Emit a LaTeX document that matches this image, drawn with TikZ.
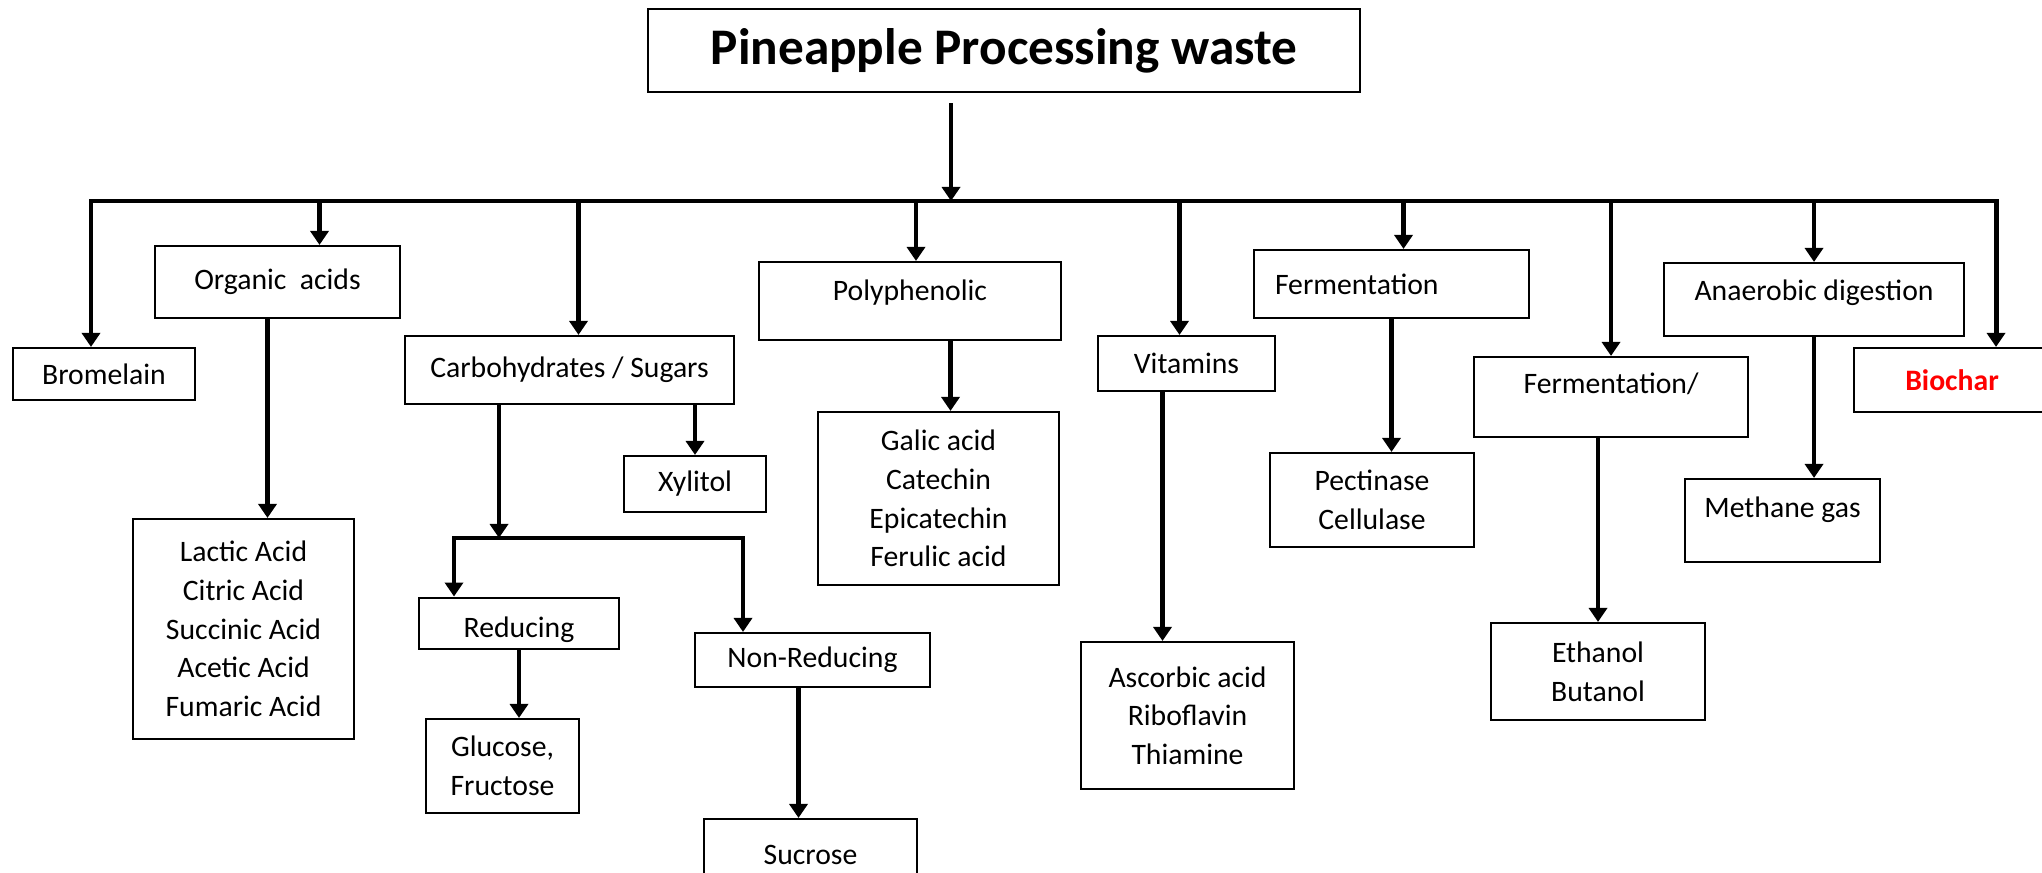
\documentclass[tikz,border=0pt]{standalone}
\usepackage{fontspec}
\setmainfont{Carlito}
\usetikzlibrary{arrows.meta}
\definecolor{ppInk}{HTML}{000000}
\definecolor{ppRed}{HTML}{FF0000}
\newcommand{\boxfont}{\fontsize{8.45}{11}\selectfont}
\tikzset{
  item/.style={
    draw=ppInk, line width=0.6pt, fill=white, inner sep=2pt,
    align=center, font=\boxfont, text=ppInk
  },
  head/.style={item, font=\fontsize{14.6}{17}\selectfont\bfseries},
  flow/.style={-{Triangle[length=1.4mm, width=1.8mm]}, line width=1.4pt, draw=ppInk},
  lift/.style={text depth=#1},
  sink/.style={text height=#1},
}

\begin{document}
\begin{tikzpicture}
  \useasboundingbox (0,0) rectangle (20.42,-8.73);

  % top
  \node[head, minimum width=7.12cm, minimum height=0.83cm] (title) at (10.04,-0.505) {Pineapple Processing waste};

  % first row
  \node[item, minimum width=1.82cm, minimum height=0.52cm] (brom) at (1.04,-3.74) {Bromelain};
  \node[item, minimum width=2.45cm, minimum height=0.72cm] (org)  at (2.775,-2.82) {Organic\ \ acids};
  \node[item, minimum width=3.29cm, minimum height=0.68cm] (carb) at (5.695,-3.70) {Carbohydrates / Sugars};
  \node[item, minimum width=3.02cm, minimum height=0.78cm, lift=6.3pt] (poly) at (9.10,-3.01) {Polyphenolic};
  \node[item, minimum width=1.77cm, minimum height=0.55cm] (vit)  at (11.865,-3.635) {Vitamins};
  \node[item, minimum width=2.75cm, minimum height=0.68cm, text width=2.33cm, inner xsep=0.21cm, align=left] (ferm) at (13.915,-2.84) {Fermentation};
  \node[item, minimum width=2.74cm, minimum height=0.80cm, lift=7.7pt] (ferm2) at (16.11,-3.97) {Fermentation/};
  \node[item, minimum width=3.00cm, minimum height=0.73cm, lift=5.1pt] (ana)  at (18.14,-2.995) {Anaerobic digestion};
  \node[item, minimum width=1.96cm, minimum height=0.64cm, text=ppRed, font=\boxfont\bfseries] (bio) at (19.52,-3.80) {Biochar};

  % products
  \node[item, minimum width=2.21cm, minimum height=2.20cm] (acids) at (2.435,-6.29)
    {Lactic Acid\\Citric Acid\\Succinic Acid\\Acetic Acid\\Fumaric Acid};
  \node[item, minimum width=1.42cm, minimum height=0.56cm] (xyl) at (6.95,-4.84) {Xylitol};
  \node[item, minimum width=2.41cm, minimum height=1.73cm] (gal) at (9.385,-4.985)
    {Galic acid\\Catechin\\Epicatechin\\Ferulic acid};
  \node[item, minimum width=2.00cm, minimum height=0.51cm, sink=9.3pt] (red) at (5.19,-6.235) {Reducing};
  \node[item, minimum width=2.35cm, minimum height=0.54cm] (nonred) at (8.125,-6.60) {Non-Reducing};
  \node[item, minimum width=1.53cm, minimum height=0.94cm] (glu) at (5.025,-7.66) {Glucose,\\Fructose};
  \node[item, minimum width=2.13cm, minimum height=0.71cm] (suc) at (8.105,-8.545) {Sucrose};
  \node[item, minimum width=2.13cm, minimum height=1.47cm] (asc) at (11.875,-7.155)
    {Ascorbic acid\\Riboflavin\\Thiamine};
  \node[item, minimum width=2.04cm, minimum height=0.94cm] (pec) at (13.72,-5.00) {Pectinase\\Cellulase};
  \node[item, minimum width=2.14cm, minimum height=0.97cm] (eth) at (15.98,-6.715) {Ethanol\\Butanol};
  \node[item, minimum width=1.95cm, minimum height=0.83cm, lift=7.4pt] (meth) at (17.825,-5.205) {Methane gas};

  % bus under the title
  \coordinate (hub)  at (9.51,-2.01);
  \coordinate (barL) at (0.91,-2.01);
  \coordinate (barR) at (19.96,-2.01);
  \draw[flow, shorten <=1mm] (title.south -| hub) -- (hub);
  \draw[flow] (hub) -- (barL) -- (barL |- brom.north);
  \draw[flow] (hub) -- (barR) -- (barR |- bio.north);
  \draw[flow] ([xshift=4.2mm]org.north |- hub) -- ([xshift=4.2mm]org.north);
  \draw[flow] ([xshift=0.9mm]carb.north |- hub) -- ([xshift=0.9mm]carb.north);
  \draw[flow] ([xshift=0.6mm]poly.north |- hub) -- ([xshift=0.6mm]poly.north);
  \draw[flow] ([xshift=-0.7mm]vit.north |- hub) -- ([xshift=-0.7mm]vit.north);
  \draw[flow] ([xshift=1.2mm]ferm.north |- hub) -- ([xshift=1.2mm]ferm.north);
  \draw[flow] (ferm2.north |- hub) -- (ferm2.north);
  \draw[flow] (ana.north |- hub) -- (ana.north);

  % sugars split
  \coordinate (split)  at (4.99,-5.38);
  \coordinate (splitL) at (4.54,-5.38);
  \coordinate (splitR) at (7.43,-5.38);
  \draw[flow] (carb.south -| split) -- (split);
  \draw[flow] (split) -- (splitL) -- (splitL |- red.north);
  \draw[flow] (split) -- (splitR) -- (splitR |- nonred.north);
  \draw[flow] (xyl.north |- carb.south) -- (xyl.north);

  % second level
  \draw[flow] ([xshift=-1mm]org.south) -- ([xshift=-1mm]org.south |- acids.north);
  \draw[flow] ([xshift=1.2mm]gal.north |- poly.south) -- ([xshift=1.2mm]gal.north);
  \draw[flow] (red.south) -- (red.south |- glu.north);
  \draw[flow] ([xshift=-1.4mm]nonred.south) -- ([xshift=-1.4mm]nonred.south |- suc.north);
  \draw[flow] ([xshift=-2.4mm]vit.south) -- ([xshift=-2.4mm]vit.south |- asc.north);
  \draw[flow] (ferm.south) -- (ferm.south |- pec.north);
  \draw[flow] (eth.north |- ferm2.south) -- (eth.north);
  \draw[flow] (ana.south) -- (ana.south |- meth.north);
\end{tikzpicture}
\end{document}
